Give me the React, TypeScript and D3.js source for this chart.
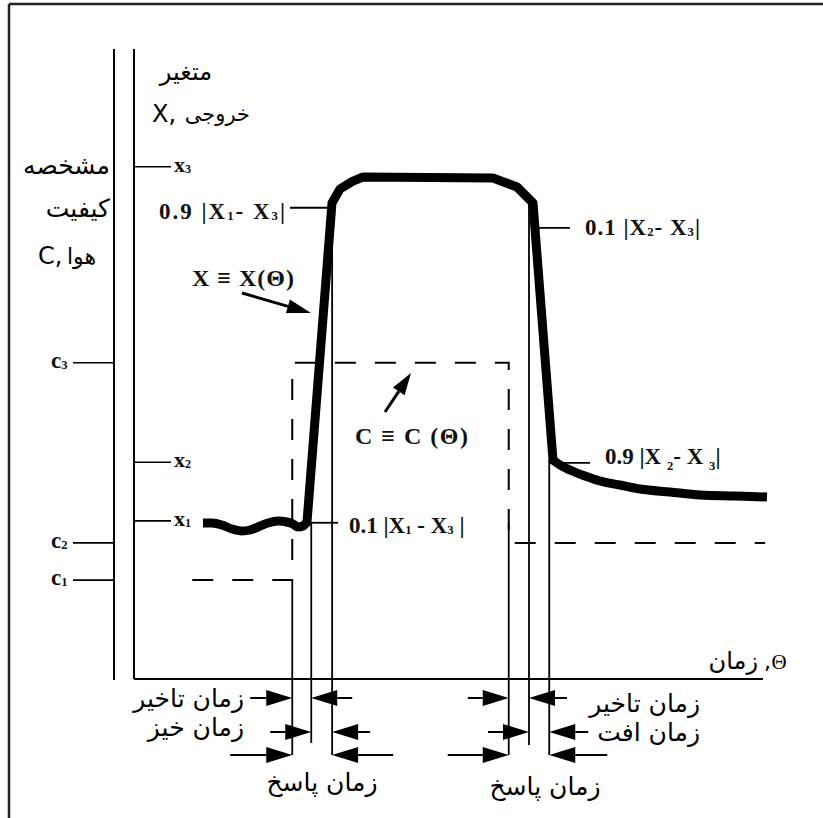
import React from 'react';
import * as d3 from 'd3';

const W = 823;
const H = 818;

// response X(Θ): time (0-100) and value (0-100), in three parts
const waveT = [10.9, 12.32, 13.9, 15.48, 17.06, 18.33, 19.59, 21.17, 22.75, 24.17, 25.12, 25.91, 26.7, 27.33];
const waveV = [24.76, 24.76, 24.44, 23.81, 23.49, 23.65, 24.13, 24.76, 25.08, 24.92, 24.6, 24.13, 24.29, 24.92];
const pulseT = [27.33, 31.28, 32.54, 34.5, 36.18, 56.71, 60.51, 63.03, 66.19];
const pulseV = [24.92, 75.56, 77.78, 79.0, 79.68, 79.52, 78.1, 75.56, 34.76];
const decayT = [66.19, 67.3, 68.88, 71.25, 73.62, 76.78, 79.94, 84.68, 89.42, 94.94, 100];
const decayV = [34.76, 33.97, 33.17, 32.22, 31.43, 30.79, 30.16, 29.68, 29.21, 29.05, 28.89];

// stepped air-quality C(Θ)
const cStepT = [9.2, 25.0, 25.0, 59.2, 59.2, 99.7];
const cStepV = [15.7, 15.7, 50.2, 50.2, 21.6, 21.6];

// axis levels
const xLevelNames = ['x', 'x', 'x'];
const xLevelSubs = ['1', '2', '3'];
const xLevelValues = [25.1, 34.4, 81.3];
const cLevelNames = ['c', 'c', 'c'];
const cLevelSubs = ['1', '2', '3'];
const cLevelValues = [15.7, 21.6, 50.2];

// event times: step up, 10% rise, 90% rise, step down, 10% fall, 90% fall
const eventTimes = [25.0, 28.0, 31.3, 59.2, 62.4, 65.6];
const eventTopValues = [15.7, 24.8, 75.6, 24.8, 75.6, 34.8];
const eventBottoms = [755, 743, 755, 755, 745, 755];

// threshold markers
const thrT = [31.3, 28.0, 62.7, 65.9];
const thrV = [74.8, 24.8, 71.6, 34.3];

const fa = '"DejaVu Sans", sans-serif';
const serif = '"Liberation Serif", "Times New Roman", serif';

const x = d3.scaleLinear().domain([0, 100]).range([134, 767]);
const y = d3.scaleLinear().domain([0, 100]).range([679, 49]);

type Part = { t: string; sub?: boolean };

function MathLabel({ px, py, parts, anchor, size = 21, subDy = 5, ls = 0 }: { px: number; py: number; parts: Part[]; anchor: string; size?: number; subDy?: number; ls?: number }) {
  return (
    <text x={px} y={py} textAnchor={anchor} fontFamily={serif} fontWeight="bold" fontSize={size} dominantBaseline="central" fill="#111" letterSpacing={ls}>
      {parts.map((p, i) => {
        const prevSub = i > 0 && parts[i - 1].sub;
        const dy = p.sub ? subDy : prevSub ? -subDy : 0;
        return (
          <tspan key={i} dy={dy} fontSize={p.sub ? size * 0.55 : size}>
            {p.t}
          </tspan>
        );
      })}
    </text>
  );
}

function Arrow({ x1, y1, x2, y2, len = 26, hw = 7, sw = 2 }: { x1: number; y1: number; x2: number; y2: number; len?: number; hw?: number; sw?: number }) {
  const a = Math.atan2(y2 - y1, x2 - x1);
  const bx = x2 - len * Math.cos(a);
  const by = y2 - len * Math.sin(a);
  const px = -Math.sin(a) * hw;
  const py = Math.cos(a) * hw;
  return (
    <g>
      <line x1={x1} y1={y1} x2={bx} y2={by} stroke="#000" strokeWidth={sw} />
      <path d={`M${x2},${y2}L${bx + px},${by + py}L${bx - px},${by - py}Z`} fill="#000" />
    </g>
  );
}

const rows = [698, 732, 755];
// bottom dimension arrows
const dimRow = [0, 0, 1, 1, 2, 2, 0, 0, 1, 1, 2, 2];
const dimEvent = [0, 1, 1, 2, 0, 2, 3, 4, 4, 5, 3, 5];
const dimRight = [true, false, true, false, true, false, true, false, true, false, true, false];
const dimTail = [42, 41, 41, 38, 62, 61, 41, 38, 41, 39, 61, 58];

function mk(ts: number[], curve: d3.CurveFactory) {
  return d3
    .line<number>()
    .x((_, i) => x(ts[i]))
    .y((v) => y(v))
    .curve(curve);
}

export default function App() {
  const waveLine = mk(waveT, d3.curveMonotoneX);
  const pulseLine = mk(pulseT, d3.curveLinear);
  const decayLine = mk(decayT, d3.curveMonotoneX);
  const stepLine = mk(cStepT, d3.curveLinear);

  return (
    <svg width={W} height={H} style={{ position: 'absolute', left: 0, top: 0, background: '#fff' }}>
      {/* frame */}
      <line x1={9} y1={4} x2={823} y2={4} stroke="#222" strokeWidth={2.5} />
      <line x1={9} y1={4} x2={9} y2={818} stroke="#222" strokeWidth={2.5} />

      {/* axes */}
      <line x1={114} y1={49} x2={114} y2={680} stroke="#000" strokeWidth={2} />
      <line x1={x(0)} y1={49} x2={x(0)} y2={y(0)} stroke="#000" strokeWidth={2} />
      <line x1={x(0)} y1={y(0)} x2={763} y2={y(0)} stroke="#000" strokeWidth={2} />

      {/* x level ticks */}
      {xLevelValues.map((v, i) => (
        <g key={'xl' + i}>
          <line x1={x(0)} y1={y(v)} x2={x(0) + 37} y2={y(v)} stroke="#000" strokeWidth={1.6} />
          <MathLabel px={x(0) + 40} py={y(v) - 3} anchor="start" size={22} parts={[{ t: xLevelNames[i] }, { t: xLevelSubs[i], sub: true }]} />
        </g>
      ))}
      {/* c level ticks */}
      {cLevelValues.map((v, i) => (
        <g key={'cl' + i}>
          <line x1={73} y1={y(v)} x2={114} y2={y(v)} stroke="#000" strokeWidth={1.6} />
          <MathLabel px={51} py={y(v) - 3} anchor="start" size={23} parts={[{ t: cLevelNames[i] }, { t: cLevelSubs[i], sub: true }]} />
        </g>
      ))}

      {/* axis titles */}
      <text x={212} y={72} textAnchor="end" fontFamily={fa} fontSize={24} dominantBaseline="central">متغیر</text>
      <text x={152} y={114} textAnchor="start" fontFamily={fa} fontSize={24} dominantBaseline="central">X,</text>
      <text x={250} y={114} textAnchor="end" fontFamily={fa} fontSize={21} dominantBaseline="central">خروجی</text>
      <text x={110} y={165} textAnchor="end" fontFamily={fa} fontSize={25} dominantBaseline="central">مشخصه</text>
      <text x={110} y={208} textAnchor="end" fontFamily={fa} fontSize={25} dominantBaseline="central">کیفیت</text>
      <text x={38} y={256} textAnchor="start" fontFamily={fa} fontSize={24} dominantBaseline="central">C,</text>
      <text x={96} y={256} textAnchor="end" fontFamily={fa} fontSize={22} dominantBaseline="central">هوا</text>
      <text x={758} y={661} textAnchor="end" fontFamily={fa} fontSize={24} dominantBaseline="central">زمان</text>
      <text x={764} y={661} textAnchor="start" fontFamily={fa} fontSize={22} dominantBaseline="central">,</text>
      <text x={779} y={662} textAnchor="middle" fontFamily={serif} fontSize={21} dominantBaseline="central">Θ</text>

      {/* event verticals */}
      {eventTimes.map((t, i) => (
        <line key={'ev' + i} x1={x(t)} y1={y(eventTopValues[i])} x2={x(t)} y2={eventBottoms[i]} stroke="#000" strokeWidth={1.8} />
      ))}

      {/* C(Θ) dashed */}
      <path d={stepLine(cStepV) || ''} fill="none" stroke="#000" strokeWidth={2} strokeDasharray="21,19" />

      {/* X(Θ) response */}
      <path d={waveLine(waveV) || ''} fill="none" stroke="#000" strokeWidth={9} strokeLinejoin="round" strokeLinecap="butt" />
      <path d={pulseLine(pulseV) || ''} fill="none" stroke="#000" strokeWidth={9} strokeLinejoin="round" strokeLinecap="round" />
      <path d={decayLine(decayV) || ''} fill="none" stroke="#000" strokeWidth={9} strokeLinejoin="round" strokeLinecap="butt" />

      {/* threshold ticks */}
      <line x1={290} y1={y(thrV[0])} x2={x(thrT[0])} y2={y(thrV[0])} stroke="#000" strokeWidth={1.8} />
      <line x1={x(thrT[1])} y1={y(thrV[1])} x2={338} y2={y(thrV[1])} stroke="#000" strokeWidth={1.8} />
      <line x1={x(thrT[2])} y1={y(thrV[2])} x2={570} y2={y(thrV[2])} stroke="#000" strokeWidth={1.8} />
      <line x1={x(thrT[3])} y1={y(thrV[3])} x2={590} y2={y(thrV[3])} stroke="#000" strokeWidth={1.8} />

      <MathLabel px={287} py={y(thrV[0]) + 3} anchor="end" size={23} ls={2} parts={[{ t: '0.9 |X' }, { t: '1', sub: true }, { t: '- X' }, { t: '3', sub: true }, { t: '|' }]} />
      <MathLabel px={349} py={y(thrV[1]) + 2} anchor="start" size={23} parts={[{ t: '0.1 |X' }, { t: '1', sub: true }, { t: ' - X' }, { t: '3', sub: true }, { t: ' |' }]} />
      <MathLabel px={585} py={y(thrV[2]) - 1} anchor="start" size={23} ls={1} parts={[{ t: '0.1 |X' }, { t: '2', sub: true }, { t: '- X' }, { t: '3', sub: true }, { t: '|' }]} />
      <MathLabel px={605} py={y(thrV[3]) - 7} anchor="start" size={23} subDy={10} parts={[{ t: '0.9 |X ' }, { t: '2', sub: true }, { t: '- X ' }, { t: '3', sub: true }, { t: '|' }]} />

      {/* curve names */}
      <MathLabel px={192} py={278} anchor="start" size={24} ls={1} parts={[{ t: 'X ≡ X(Θ)' }]} />
      <Arrow x1={242} y1={293} x2={311} y2={313} len={24} hw={7} sw={3} />
      <MathLabel px={355} py={436} anchor="start" size={24} ls={1.5} parts={[{ t: 'C ≡ C (Θ)' }]} />
      <Arrow x1={385} y1={412} x2={411} y2={373} len={22} hw={7} sw={3} />

      {/* bottom dimension arrows */}
      {dimEvent.map((e, i) => {
        const tip = x(eventTimes[e]);
        const yy = rows[dimRow[i]];
        const from = dimRight[i] ? tip - dimTail[i] : tip + dimTail[i];
        return <Arrow key={'d' + i} x1={from} y1={yy} x2={tip} y2={yy} len={26} hw={8} sw={2} />;
      })}

      {/* bottom labels */}
      <text x={244} y={698} textAnchor="end" fontFamily={fa} fontSize={25} dominantBaseline="central">زمان تاخیر</text>
      <text x={244} y={727} textAnchor="end" fontFamily={fa} fontSize={25} dominantBaseline="central">زمان خیز</text>
      <text x={322} y={782} textAnchor="middle" fontFamily={fa} fontSize={25} dominantBaseline="central">زمان پاسخ</text>
      <text x={700} y={703} textAnchor="end" fontFamily={fa} fontSize={25} dominantBaseline="central">زمان تاخیر</text>
      <text x={700} y={732} textAnchor="end" fontFamily={fa} fontSize={25} dominantBaseline="central">زمان افت</text>
      <text x={545} y={786} textAnchor="middle" fontFamily={fa} fontSize={25} dominantBaseline="central">زمان پاسخ</text>
    </svg>
  );
}
